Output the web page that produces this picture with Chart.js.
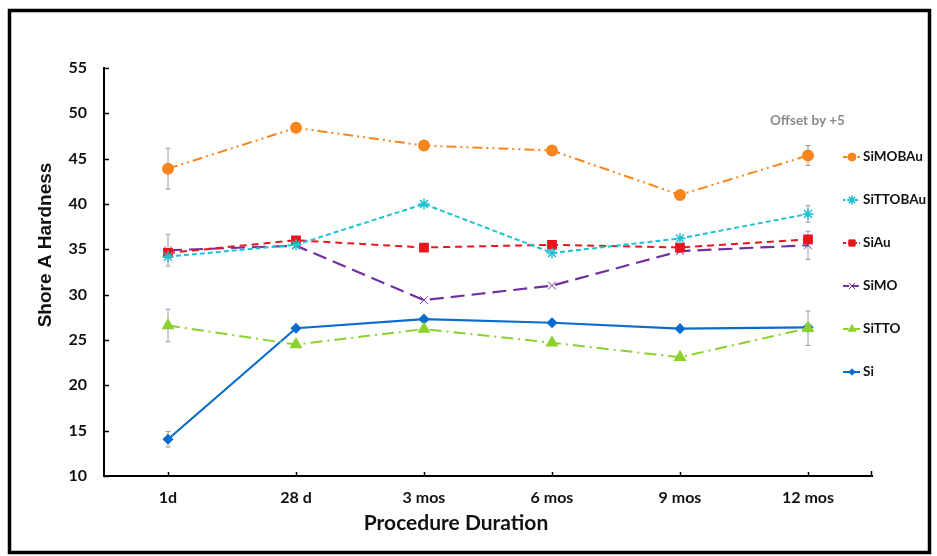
<!DOCTYPE html>
<html>
<head>
<meta charset="utf-8">
<script src="https://cdn.jsdelivr.net/npm/chart.js@4.4.1/dist/chart.umd.min.js"></script>
<style>
  html, body { margin: 0; padding: 0; background: #fff; }
  #wrap { position: relative; width: 937px; height: 556px; }
</style>
</head>
<body>
<div id="wrap"><canvas id="c" width="937" height="556"></canvas></div>
<script>
// ---- data ----
const categories = ["1d", "28 d", "3 mos", "6 mos", "9 mos", "12 mos"];
const seriesNames = ["SiMOBAu", "SiTTOBAu", "SiAu", "SiMO", "SiTTO", "Si"];
const siMOBAu  = [43.9, 48.4, 46.45, 45.9, 41.0, 45.35];
const siTTOBAu = [34.2, 35.5, 40.0, 34.6, 36.2, 38.9];
const siAu     = [34.6, 36.0, 35.2, 35.5, 35.2, 36.1];
const siMO     = [34.9, 35.4, 29.4, 31.0, 34.8, 35.45];
const siTTO    = [26.6, 24.5, 26.2, 24.7, 23.1, 26.3];
const si       = [14.05, 26.3, 27.3, 26.9, 26.25, 26.4];
// error bar half-widths (null = none shown)
const siMOBAuErr  = [2.25, null, null, null, null, 1.1];
const siTTOBAuErr = [null, null, null, null, null, 0.9];
const siAuErr     = [null, null, null, null, null, null];
const siMOErr     = [1.75, null, null, null, null, 1.55];
const siTTOErr    = [1.8, null, null, null, null, 1.9];
const siErr       = [0.85, null, null, null, null, null];
const yTicks = [10, 15, 20, 25, 30, 35, 40, 45, 50, 55];
const yTitle = "Shore A Hardness";
const xTitle = "Procedure Duration";
const noteText = "Offset by +5";

const C = {
  orange: '#F7861F', cyan: '#1DC3D3', red: '#E8161C',
  purple: '#7030A0', green: '#8DD12B', blue: '#0A6CCF'
};

const datasets = [
  { label: seriesNames[0], data: siMOBAu, err: siMOBAuErr, borderColor: C.orange, backgroundColor: C.orange,
    borderDash: [10, 4, 2, 4, 2, 4], pointStyle: 'circle', pointRadius: 5, borderWidth: 2 },
  { label: seriesNames[1], data: siTTOBAu, err: siTTOBAuErr, borderColor: C.cyan, backgroundColor: C.cyan,
    borderDash: [5, 3], pointStyle: 'star', pointRadius: 5.5, borderWidth: 2, pointBorderWidth: 1.5 },
  { label: seriesNames[2], data: siAu, err: siAuErr, borderColor: C.red, backgroundColor: C.red,
    borderDash: [7, 5], pointStyle: 'rect', pointRadius: 5.5, borderWidth: 2 },
  { label: seriesNames[3], data: siMO, err: siMOErr, borderColor: C.purple, backgroundColor: C.purple,
    borderDash: [14, 7], pointStyle: 'crossRot', pointRadius: 5.5, borderWidth: 2.2, pointBorderWidth: 1 },
  { label: seriesNames[4], data: siTTO, err: siTTOErr, borderColor: C.green, backgroundColor: C.green,
    borderDash: [12, 5, 2, 5], pointStyle: 'triangle', pointRadius: 5.5, borderWidth: 2 },
  { label: seriesNames[5], data: si, err: siErr, borderColor: C.blue, backgroundColor: C.blue,
    borderDash: [], pointStyle: 'rectRot', pointRadius: 4, borderWidth: 2.2 }
].map(d => Object.assign({ tension: 0, fill: false, pointBackgroundColor: d.backgroundColor,
  pointBorderColor: d.borderColor, pointHoverRadius: d.pointRadius }, d));

const TXT = '#111';

const decor = {
  id: 'decor',
  beforeDatasetsDraw(chart) {
    const { ctx, scales: { x, y } } = chart;
    // error bars
    ctx.save();
    ctx.strokeStyle = '#9a9a9a';
    ctx.lineWidth = 1;
    chart.data.datasets.forEach(ds => {
      ds.err.forEach((e, i) => {
        if (e == null) return;
        const px = x.getPixelForValue(i);
        const yt = y.getPixelForValue(ds.data[i] + e);
        const yb = y.getPixelForValue(ds.data[i] - e);
        ctx.beginPath();
        ctx.moveTo(px, yt); ctx.lineTo(px, yb);
        ctx.moveTo(px - 2.5, yt); ctx.lineTo(px + 2.5, yt);
        ctx.moveTo(px - 2.5, yb); ctx.lineTo(px + 2.5, yb);
        ctx.stroke();
      });
    });
    ctx.restore();
  },
  afterDraw(chart) {
    const { ctx, chartArea: a, scales: { x, y } } = chart;
    ctx.save();
    // inward tick marks
    ctx.strokeStyle = '#000';
    ctx.lineWidth = 1.5;
    ctx.beginPath();
    yTicks.forEach(v => {
      const py = Math.round(y.getPixelForValue(v)) + 0.5;
      ctx.moveTo(a.left, py); ctx.lineTo(a.left + 5, py);
    });
    categories.forEach((c, i) => {
      const px = Math.round(x.getPixelForValue(i)) + 0.5;
      ctx.moveTo(px, a.bottom); ctx.lineTo(px, a.bottom - 4);
    });
    ctx.moveTo(a.right - 0.5, a.bottom); ctx.lineTo(a.right - 0.5, a.bottom - 5);
    ctx.stroke();

    // axis titles
    ctx.fillStyle = TXT;
    ctx.textAlign = 'center';
    ctx.textBaseline = 'middle';
    ctx.font = 'bold 21px Lato';
    ctx.fillText(xTitle, 456, 523);
    ctx.save();
    ctx.translate(46, 245);
    ctx.rotate(-Math.PI / 2);
    ctx.font = 'bold 19px "Liberation Sans"';
    ctx.fillText(yTitle, 0, 0);
    ctx.restore();

    // note
    ctx.fillStyle = '#8a8a8a';
    ctx.font = 'bold 13.5px Lato';
    ctx.textAlign = 'left';
    ctx.fillText(noteText, 770, 121);

    // legend
    const legendY = [157, 200, 243, 286, 329, 372];
    chart.data.datasets.forEach((ds, i) => {
      const ly = legendY[i];
      ctx.save();
      ctx.strokeStyle = ds.borderColor;
      ctx.lineWidth = 2;
      ctx.setLineDash(ds.borderDash.length ? ds.borderDash.map(v => Math.max(2, v * 0.45)) : []);
      ctx.beginPath();
      ctx.moveTo(843, ly); ctx.lineTo(860, ly);
      ctx.stroke();
      ctx.setLineDash([]);
      ctx.fillStyle = ds.backgroundColor;
      ctx.strokeStyle = ds.borderColor;
      ctx.lineWidth = ds.pointBorderWidth || 1;
      Chart.helpers.drawPoint(ctx, { pointStyle: ds.pointStyle, radius: ds.pointRadius * 0.8, rotation: 0,
        borderWidth: ds.pointBorderWidth || 1 }, 852, ly);
      ctx.restore();
      ctx.fillStyle = TXT;
      ctx.font = 'bold 13.5px Lato';
      ctx.textAlign = 'left';
      ctx.textBaseline = 'middle';
      ctx.fillText(ds.label, 863, ly);
    });

    // outer frame
    ctx.strokeStyle = '#000';
    ctx.lineWidth = 3.5;
    ctx.strokeRect(9.5, 10.5, 920, 542);
    ctx.restore();
  }
};

new Chart(document.getElementById('c'), {
  type: 'line',
  data: { labels: categories, datasets },
  plugins: [decor],
  options: {
    responsive: false,
    animation: false,
    events: [],
    layout: { padding: { top: 68, right: 65, left: 0, bottom: 0 } },
    plugins: { legend: { display: false }, tooltip: { enabled: false }, title: { display: false } },
    scales: {
      x: {
        type: 'category',
        offset: true,
        grid: { display: false, drawTicks: false },
        border: { display: true, color: '#000', width: 2 },
        ticks: { color: TXT, font: { family: 'Lato', size: 16, weight: 'bold' }, padding: 12, maxRotation: 0 },
        afterFit(s) { s.height = 80; }
      },
      y: {
        min: 10, max: 55,
        afterBuildTicks(s) { s.ticks = yTicks.map(v => ({ value: v })); },
        grid: { display: false, drawTicks: false },
        border: { display: true, color: '#000', width: 2 },
        ticks: { color: TXT, font: { family: 'Lato', size: 16, weight: 'bold' }, padding: 17 },
        afterFit(s) { s.width = 104; }
      }
    }
  }
});
</script>
</body>
</html>
